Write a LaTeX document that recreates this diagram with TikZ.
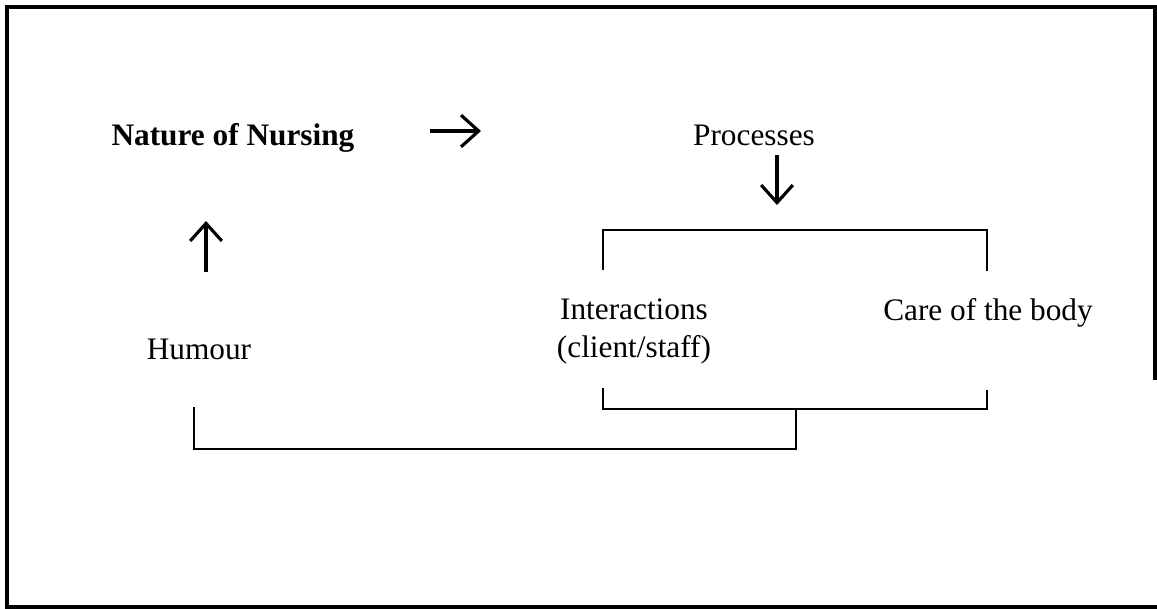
\documentclass[tikz,border=0pt]{standalone}
\usepackage{fontspec}
\setmainfont{Liberation Serif}
\usetikzlibrary{arrows.meta}

\begin{document}
\begin{tikzpicture}[x=0.01cm, y=-0.01cm,
	every node/.style={font=\fontsize{8.9}{10.6}\selectfont, inner sep=0pt, anchor=base},
	pointer/.style={-{Straight Barb[length=5pt,width=9pt]}, line width=0.9pt},
	brace/.style={line width=0.6pt}]
	\useasboundingbox (0,0) rectangle (1157,609);
	% frame of the scanned page
	\draw[line width=0.9pt] (1155,380) -- (1155,7) -- (7,7) -- (7,609);
	\draw[line width=0.9pt] (7,607) -- (1157,607);

	\node (nature) at (233,145) {\textbf{Nature of Nursing}};
	\node (proc) at (754,145) {Processes};
	\node[align=center] (inter) at (634,357) {Interactions\\(client/staff)};
	\node (care) at (988,320) {Care of the body};
	\node (humour) at (199,359) {Humour};

	\coordinate (a1) at (430,131);
	\coordinate (a2) at (481,131);
	\coordinate (b1) at (777,155);
	\coordinate (b2) at (777,205);
	\coordinate (c1) at (206,272);
	\coordinate (c2) at (206,221);

	\draw[pointer] (a1) -- (a2);
	\draw[pointer] (b1) -- (b2);
	\draw[pointer] (c1) -- (c2);

	% brackets
	\draw[brace] (603,270) |- (987,230) -- (987,271);
	\draw[brace] (603,388) |- (987,409) -- (987,390);
	\draw[brace] (194,407) |- (796,449) -- (796,409);
\end{tikzpicture}
\end{document}
